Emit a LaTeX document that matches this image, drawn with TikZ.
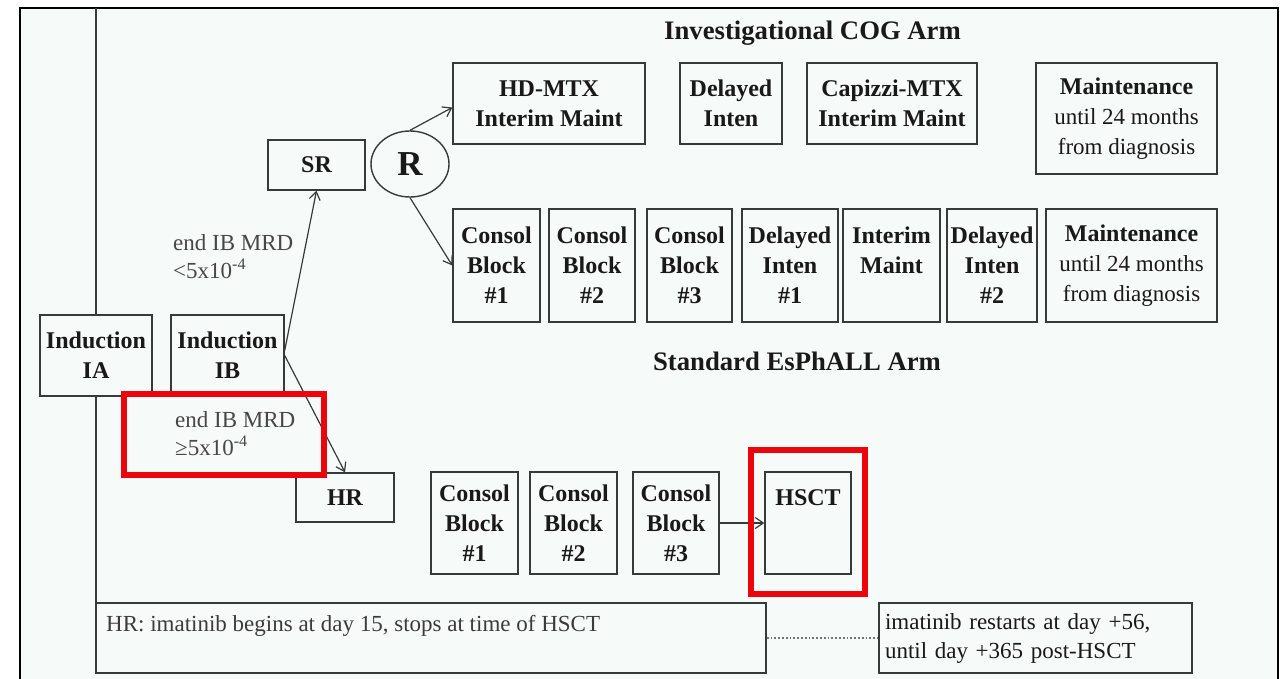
\documentclass[tikz,border=0pt]{standalone}
\usepackage{fontspec}
\setmainfont{Liberation Serif}
\usetikzlibrary{arrows.meta,shapes.geometric}
\definecolor{bg}{RGB}{246,250,248}
\definecolor{ln}{RGB}{55,58,56}
\definecolor{tx}{RGB}{25,25,25}
\definecolor{redmark}{RGB}{236,6,12}
\tikzset{
  box/.style={draw=ln, line width=1.4pt, fill=bg, inner sep=0pt, align=center, text=tx,
    font=\bfseries\fontsize{24}{30}\selectfont},
  lbl/.style={inner sep=0pt, align=left, text=tx!80!white, font=\fontsize{23}{28}\selectfont},
  title/.style={inner sep=0pt, text=tx, font=\bfseries\fontsize{26.7}{30}\selectfont},
  arr/.style={draw=ln, line width=1.2pt, -{Straight Barb[length=8pt,width=11pt,line width=1.2pt]}},
  redbox/.style={draw=redmark, line width=6pt},
  note/.style={draw=ln, line width=1.4pt, fill=bg, inner sep=0pt, text=tx,
    font=\fontsize{23}{29}\selectfont}
}
\newcommand{\reg}[1]{{\mdseries #1}}
\begin{document}
\begin{tikzpicture}[x=1pt,y=-1pt]
\useasboundingbox (0,0) rectangle (1281,679);
% background and outer frame
\fill[white] (0,0) rectangle (1281,679);
\fill[bg] (20,8) rectangle (1278,679);
\draw[black, line width=2.2pt] (20,679) -- (20,8) -- (1278,8) -- (1278,679);
% vertical frame line
\coordinate (ftop) at (96,8);
\coordinate (fbot) at (96,603);
\draw[ln, line width=1.6pt] (ftop) -- (fbot);

% induction
\node[box, minimum width=112pt, minimum height=81pt] (ia) at (96,355.5) {Induction\\IA};
\node[box, minimum width=113pt, minimum height=81pt] (ib) at (227.5,355.5) {Induction\\IB};
\node[box, minimum width=97pt, minimum height=50pt] (sr) at (316.5,165) {SR};
\node[box, minimum width=98pt, minimum height=49pt] (hr) at (345,497.5) {HR};
\node[box, ellipse, minimum width=78pt, minimum height=66pt, font=\bfseries\fontsize{35}{35}\selectfont] (r) at (410,164) {R};

% labels
\node[lbl, anchor=west] (lsr) at (173,256.5) {end IB MRD\\<5x10\textsuperscript{-4}};
\node[lbl, anchor=west] (lhr) at (175,434) {end IB MRD\\≥5x10\textsuperscript{-4}};

% titles
\node[title] (tcog) at (812.5,33) {Investigational COG Arm};
\node[title] (tesp) at (797,361) {Standard EsPhALL Arm};

% investigational arm
\node[box, minimum width=192pt, minimum height=81pt] (hd) at (549,103.5) {HD-MTX\\Interim Maint};
\node[box, minimum width=102pt, minimum height=81pt] (di) at (731,103.5) {Delayed\\Inten};
\node[box, minimum width=170pt, minimum height=81pt] (cap) at (892,103.5) {Capizzi-MTX\\Interim Maint};
\node[box, minimum width=181pt, minimum height=111pt] (mt) at (1126.5,118.5) {Maintenance\\\reg{\fontsize{23}{31}\selectfont until 24 months}\\\reg{\fontsize{23}{31}\selectfont from diagnosis}};

% standard arm (SR)
\node[box, minimum width=87pt, minimum height=113pt] (c1) at (496.5,265.5) {Consol\\Block\\\#1};
\node[box, minimum width=86pt, minimum height=113pt] (c2) at (592,265.5) {Consol\\Block\\\#2};
\node[box, minimum width=85pt, minimum height=113pt] (c3) at (689.5,265.5) {Consol\\Block\\\#3};
\node[box, minimum width=96pt, minimum height=113pt] (d1) at (790,265.5) {Delayed\\Inten\\\#1};
\node[box, minimum width=97pt, minimum height=113pt] (im) at (891.5,265.5) {Interim\\Maint\\\phantom{\#1}};
\node[box, minimum width=90pt, minimum height=113pt] (d2) at (992,265.5) {Delayed\\Inten\\\#2};
\node[box, minimum width=171pt, minimum height=113pt] (mb) at (1131.5,265.5) {Maintenance\\\reg{\fontsize{23}{29}\selectfont until 24 months}\\\reg{\fontsize{23}{29}\selectfont from diagnosis}};

% HR arm
\node[box, minimum width=87pt, minimum height=102pt] (b1) at (474.5,523) {Consol\\Block\\\#1};
\node[box, minimum width=87pt, minimum height=102pt] (b2) at (573.5,523) {Consol\\Block\\\#2};
\node[box, minimum width=86pt, minimum height=102pt] (b3) at (676,523) {Consol\\Block\\\#3};
\node[box, minimum width=86pt, minimum height=102pt] (hsct) at (808,523) {};
\node[inner sep=0pt, text=tx, font=\bfseries\fontsize{24}{30}\selectfont] (hscttxt) at (808,498) {HSCT};

% notes
\node[note, minimum width=670pt, minimum height=70pt] (n1) at (431,638) {};
\node[inner sep=0pt, anchor=west, text=tx!85!white, font=\fontsize{23}{29}\selectfont] (n1txt) at (106,626) {HR: imatinib begins at day 15, stops at time of HSCT};
\node[note, minimum width=313pt, minimum height=70pt, align=left, text width=301pt] (n2) at (1035.5,638) {imatinib restarts at day +56,\\until day +365 post-HSCT};
\draw[ln!70!white, line width=1.8pt, dotted] (n1.east) -- (n2.west);

% connectors
\draw[arr] ([yshift=5pt]ib.east) -- (sr.south);
\draw[arr] (ib.east) -- (hr.north);
\draw[arr] (r.north) -- ([yshift=-4pt]hd.west);
\draw[arr] (r.south) -- (c1.west);
\draw[arr] (b3.east) -- (hsct.west);

% red highlight boxes
\draw[redbox] (124,394) rectangle (324,475);
\draw[redbox] (751,450) rectangle (865,594);
\end{tikzpicture}
\end{document}
